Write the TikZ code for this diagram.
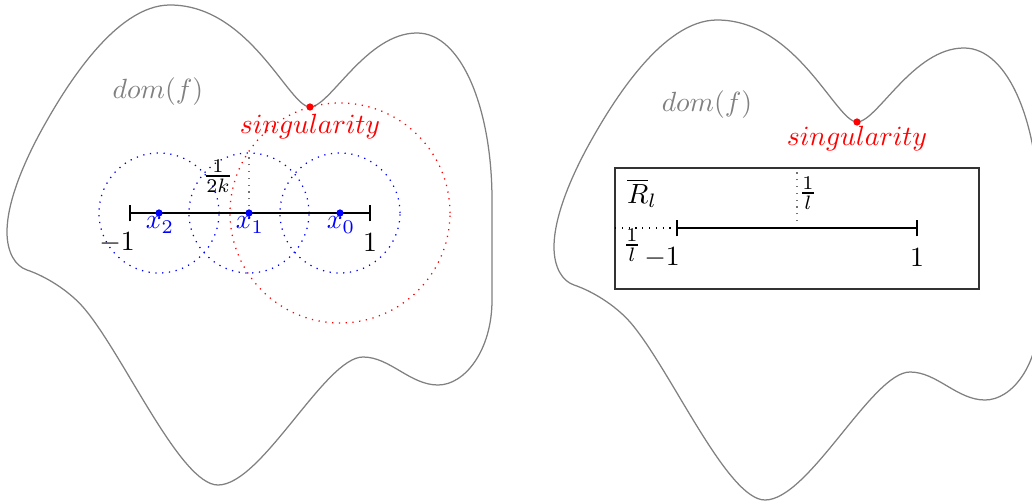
\documentclass[tikz,border=0pt]{standalone}
\newcommand{\myblob}{%
  \draw[blob] (170,5) .. controls (250,5) and (289,107) .. (310,107)
    .. controls (330,107) and (366,33) .. (417,33)
    .. controls (462,33) and (492,110) .. (492,200)
    -- (492,300)
    .. controls (492,350) and (465,385) .. (438,385)
    .. controls (410,385) and (390,357) .. (363,357)
    .. controls (325,357) and (262,485) .. (218,485)
    .. controls (180,485) and (123,353) .. (83,307)
    .. controls (68,290) and (45,276) .. (27,270)
    .. controls (15,266) and (7,252) .. (7,232)
    .. controls (7,200) and (26,159) .. (40,133)
    .. controls (64,89) and (115,5) .. (170,5) -- cycle;}
\begin{document}
\begin{tikzpicture}[x=0.36pt,y=-0.36pt,
  blob/.style={draw=black!50, line width=0.45pt},
  seg/.style={line width=0.9pt},
  tick/.style={line width=0.9pt},
  pt/.style={circle, fill, inner sep=0pt, minimum size=2.6pt},
  lab/.style={inner sep=0pt},
  circ/.style={blue, dotted, line width=0.45pt},
  rcirc/.style={red, dotted, line width=0.45pt},
  gdot/.style={black!55, dotted, line width=0.45pt}]
\useasboundingbox (0,0) rectangle (1032,504);

% ---------- left panel ----------
\myblob
\node[lab, text=black!50] (dom1) at (158,92) {$dom(f)$};
\coordinate (a1) at (130,213);
\coordinate (b1) at (370,213);
\coordinate (x2) at (159,213);
\coordinate (x1) at (249,213);
\coordinate (x0) at (340,213);
\coordinate (r1top) at (249,153);
\draw[circ] (x2) circle[radius=21.6pt];
\draw[circ] (x1) circle[radius=21.6pt];
\draw[circ] (x0) circle[radius=21.6pt];
\draw[rcirc] (x0) circle[radius=39.6pt];
\draw[gdot] (x1) -- (r1top);
\draw[seg] (a1) -- (b1);
\draw[tick] ([yshift=-3pt]a1) -- ([yshift=3pt]a1);
\draw[tick] ([yshift=-3pt]b1) -- ([yshift=3pt]b1);
\node[pt, blue] (px2) at (x2) {};
\node[pt, blue] (px1) at (x1) {};
\node[pt, blue] (px0) at (x0) {};
\node[lab, text=blue] (lx2) at (160,225) {$x_2$};
\node[lab, text=blue] (lx1) at (250,225) {$x_1$};
\node[lab, text=blue] (lx0) at (341,225) {$x_0$};
\node[lab] (m1) at (117,243) {$-1$};
\node[lab] (p1) at (370,243) {$1$};
\node[lab] (frk) at (218,176) {$\frac{1}{2k}$};
\node[pt, red] (s1) at (310,107) {};
\node[lab, text=red] (sl1) at (310,127) {$singularity$};

% ---------- right panel ----------
\begin{scope}[shift={(547,15)}]
\myblob
\end{scope}
\node[lab, text=black!50] (dom2) at (707,105) {$dom(f)$};
\node[pt, red] (s2) at (857,122) {};
\node[lab, text=red] (sl2) at (857,139) {$singularity$};
\node[draw=black!80, line width=0.5pt, minimum width=131pt, minimum height=43.6pt, inner sep=0pt] (rect) at (797,228.5) {};
\coordinate (a2) at (677,228);
\coordinate (b2) at (917,228);
\coordinate (mid2) at (797,228);
\coordinate (topmid) at (797,168);
\coordinate (leftmid) at (615,228);
\draw[gdot] (mid2) -- (topmid);
\draw[dotted, line width=0.45pt] (leftmid) -- (a2);
\draw[seg] (a2) -- (b2);
\draw[tick] ([yshift=-3pt]a2) -- ([yshift=3pt]a2);
\draw[tick] ([yshift=-3pt]b2) -- ([yshift=3pt]b2);
\node[lab] (m2) at (662,258) {$-1$};
\node[lab] (p2) at (917,258) {$1$};
\node[lab] (fl1) at (808,193) {$\frac{1}{l}$};
\node[lab] (fl2) at (632,245) {$\frac{1}{l}$};
\node[lab] (R) at (642,193) {$\overline{R}_l$};
\end{tikzpicture}
\end{document}
